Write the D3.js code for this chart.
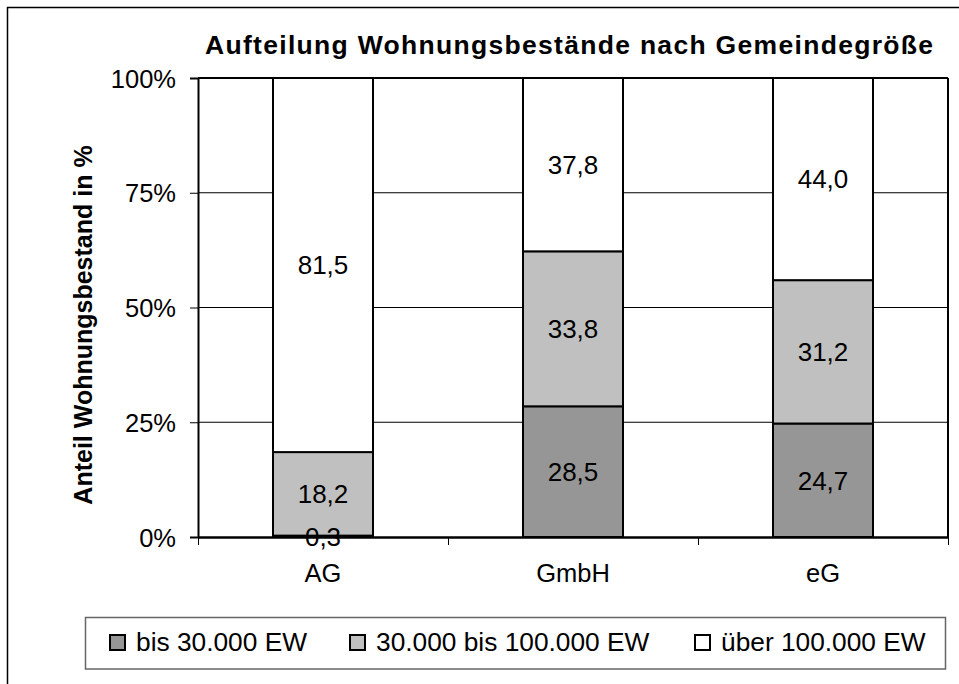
<!DOCTYPE html>
<html>
<head>
<meta charset="utf-8">
<script src="https://cdn.jsdelivr.net/npm/d3@7"></script>
<style>
  html, body { margin: 0; padding: 0; background: #fff; }
  svg { display: block; }
  text { font-family: "Liberation Sans", Arial, sans-serif; fill: #000; }
</style>
</head>
<body>
<svg id="chart" width="959" height="684"></svg>
<script>
// ---- data ----
const categories = ["AG", "GmbH", "eG"];
const seriesNames = ["bis 30.000 EW", "30.000 bis 100.000 EW", "über 100.000 EW"];
const bis30 = [0.3, 28.5, 24.7];
const von30bis100 = [18.2, 33.8, 31.2];
const ueber100 = [81.5, 37.8, 44.0];
const yTicks = [0, 25, 50, 75, 100];
const chartTitle = "Aufteilung Wohnungsbestände nach Gemeindegröße";
const yTitle = "Anteil Wohnungsbestand in %";
const colors = ["#969696", "#c0c0c0", "#ffffff"];

(function () {
// ---- build table ----
const seriesValues = [bis30, von30bis100, ueber100];
const table = categories.map((c, i) => {
  const row = { cat: c };
  seriesNames.forEach((s, j) => row[s] = seriesValues[j][i]);
  return row;
});
const stack = d3.stack().keys(seriesNames).offset(d3.stackOffsetExpand);
const stacked = stack(table);

const svg = d3.select("#chart");
const pL = 198, pR = 948, pT = 78, pB = 537;

// outer frame (right/bottom edges run off the picture)
svg.append("rect").attr("x", 7.5).attr("y", 7.5).attr("width", 1000).attr("height", 720)
  .attr("fill", "none").attr("stroke", "#000").attr("stroke-width", 1.5);

const x = d3.scaleBand().domain(categories).range([pL, pR]).paddingInner(0.6).paddingOuter(0.3);
const y = d3.scaleLinear().domain([0, 100]).range([pB, pT]);
const xb = d3.scaleLinear().domain([0, categories.length]).range([pL, pR]);

// gridlines
svg.append("g").selectAll("line").data(yTicks.filter(t => t > 0 && t < 100)).join("line")
  .attr("x1", pL).attr("x2", pR).attr("y1", d => y(d)).attr("y2", d => y(d))
  .attr("stroke", "#000").attr("stroke-width", 1);

// plot border top & right
svg.append("line").attr("x1", pL).attr("x2", pR).attr("y1", y(100)).attr("y2", y(100))
  .attr("stroke", "#000").attr("stroke-width", 2);
svg.append("line").attr("x1", pR).attr("x2", pR).attr("y1", y(100)).attr("y2", y(0))
  .attr("stroke", "#000").attr("stroke-width", 2);

// bars
const fmt = v => d3.format(".1f")(v).replace(".", ",");
stacked.forEach((layer, j) => {
  svg.append("g").selectAll("rect").data(layer).join("rect")
    .attr("x", d => x(d.data.cat))
    .attr("width", x.bandwidth())
    .attr("y", d => y(d[1] * 100))
    .attr("height", d => y(d[0] * 100) - y(d[1] * 100))
    .attr("fill", colors[j])
    .attr("stroke", "#000").attr("stroke-width", 2);
});

// y axis
const yAxis = svg.append("g").attr("transform", `translate(${pL},0)`)
  .call(d3.axisLeft(y).tickValues(yTicks).tickFormat(d => d + "%").tickSize(8).tickPadding(14));
yAxis.select(".domain").attr("stroke", "#000").attr("stroke-width", 2);
yAxis.selectAll(".tick line").attr("stroke", "#000").attr("stroke-width", 1);
yAxis.selectAll(".tick text").attr("font-size", 25.5).attr("font-family", "Liberation Sans, Arial, sans-serif").attr("dy", "0.36em");

// x axis: boundary ticks
const xTickAxis = svg.append("g").attr("transform", `translate(0,${pB})`)
  .call(d3.axisBottom(xb).tickValues(d3.range(categories.length + 1)).tickFormat("").tickSize(8).tickSizeOuter(0));
xTickAxis.select(".domain").attr("stroke", "#000").attr("stroke-width", 2.5);
xTickAxis.selectAll(".tick line").attr("stroke", "#000").attr("stroke-width", 1);
// x axis labels
const xAxis = svg.append("g").attr("transform", `translate(0,${pB})`)
  .call(d3.axisBottom(x).tickSize(0).tickPadding(27));
xAxis.select(".domain").remove();
xAxis.selectAll(".tick text").attr("font-size", 25.5).attr("font-family", "Liberation Sans, Arial, sans-serif");

// value labels
stacked.forEach((layer, j) => {
  svg.append("g").selectAll("text").data(layer).join("text")
    .attr("x", d => x(d.data.cat) + x.bandwidth() / 2)
    .attr("y", d => y((d[0] + d[1]) / 2 * 100))
    .attr("dy", "0.36em")
    .attr("text-anchor", "middle")
    .attr("font-size", 26)
    .text(d => fmt(d.data[layer.key]));
});

// title
svg.append("text").attr("x", 569).attr("y", 53.5).attr("text-anchor", "middle")
  .attr("font-size", 26.5).attr("font-weight", "bold")
  .attr("textLength", 728).attr("lengthAdjust", "spacing")
  .text(chartTitle);

// y title
svg.append("text").attr("transform", "translate(92,325) rotate(-90)")
  .attr("text-anchor", "middle").attr("font-size", 25).attr("font-weight", "bold")
  .text(yTitle);

// legend
svg.append("rect").attr("x", 85.5).attr("y", 617.5).attr("width", 860).attr("height", 51.5)
  .attr("fill", "#fff").attr("stroke", "#666").attr("stroke-width", 1.5);
const legendX = [110, 350, 695];
const leg = svg.append("g").selectAll("g").data(seriesNames).join("g")
  .attr("transform", (d, i) => `translate(${legendX[i]},0)`);
leg.append("rect").attr("x", 0).attr("y", 635).attr("width", 15).attr("height", 15)
  .attr("fill", (d, i) => colors[i]).attr("stroke", "#000").attr("stroke-width", 2);
leg.append("text").attr("x", 26).attr("y", 650.5).attr("font-size", 26.3).text(d => d);
})();
</script>
</body>
</html>
